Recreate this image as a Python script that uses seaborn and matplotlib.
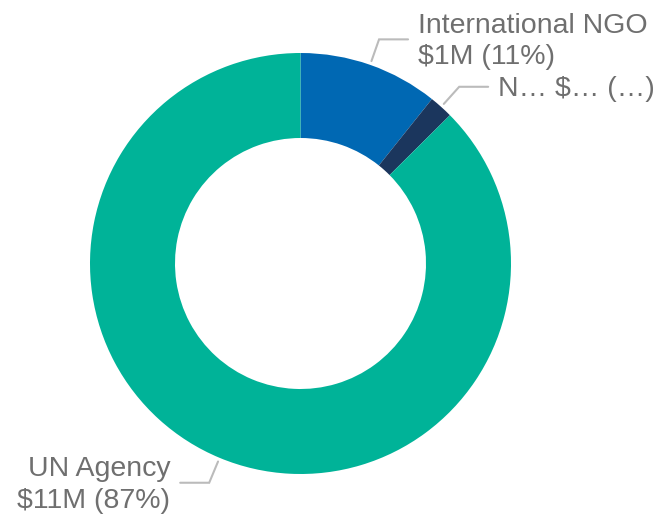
import numpy as np
import matplotlib
matplotlib.use("Agg")
import matplotlib.pyplot as plt
import seaborn as sns

# -------------------------
# Data (in $M)
# -------------------------
categories = ["International NGO", "N…", "UN Agency"]
amounts = [1.35, 0.23, 11.0]
label_texts = ["International NGO\n$1M (11%)", "N… $… (…)", "UN Agency\n$11M (87%)"]
slice_colors = ["#0068B3", "#1B365D", "#00B398"]

sns.set_theme(style="white")
plt.rcParams["font.family"] = ["Liberation Sans", "DejaVu Sans"]

W, H = 664, 518
fig = plt.figure(figsize=(W / 100, H / 100), dpi=100)
ax = fig.add_axes([0, 0, 1, 1])

# donut geometry in pixel units (y up)
cx, cy = 300.5, H - 263.5
r_out, r_in = 210.5, 125.5

wedges, _ = ax.pie(
    amounts,
    colors=slice_colors,
    startangle=90,
    counterclock=False,
    radius=r_out,
    center=(cx, cy),
    wedgeprops=dict(width=r_out - r_in, edgecolor="none", linewidth=0),
)

# -------------------------
# Leader lines + labels
# -------------------------
text_color = "#6F6F6F"
line_color = "#BBBBBB"
for w, txt in zip(wedges, label_texts):
    ang = np.deg2rad((w.theta1 + w.theta2) / 2)
    dx, dy = np.cos(ang), np.sin(ang)
    x0, y0 = cx + (r_out + 4) * dx, cy + (r_out + 4) * dy
    x1, y1 = cx + (r_out + 27) * dx, cy + (r_out + 27) * dy
    side = 1 if dx >= 0 else -1
    x2 = x1 + side * 29
    ax.plot([x0, x1, x2], [y0, y1, y1], color=line_color, lw=1.5,
            solid_joinstyle="miter")
    ax.text(x2 + side * 10, y1 - 2, txt, ha="left" if side > 0 else "right",
            va="center", fontsize=20.5, color=text_color, linespacing=1.28)

ax.set_xlim(0, W)
ax.set_ylim(0, H)
ax.set_aspect("equal")
ax.axis("off")

fig.savefig("out.png", dpi=100)
plt.close(fig)
